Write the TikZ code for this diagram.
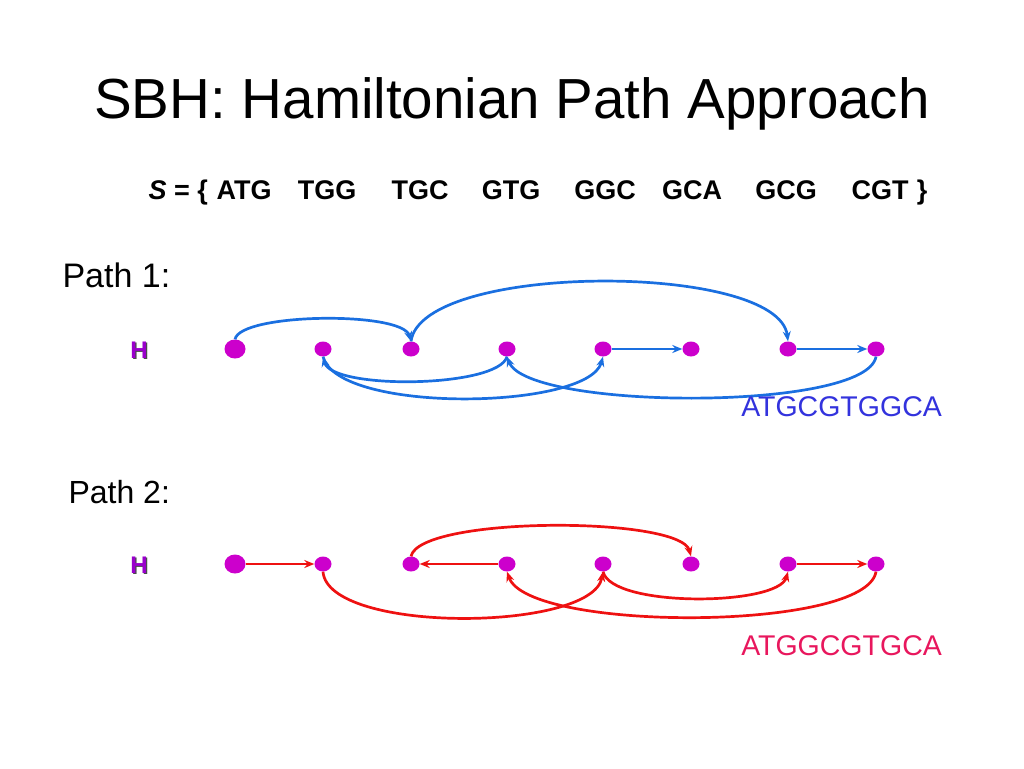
\documentclass[tikz,border=0pt]{standalone}
\usepackage{fontspec}
\setmainfont{Liberation Sans}
\usetikzlibrary{arrows.meta,shapes.geometric}
\definecolor{nodemag}{HTML}{CC00CC}
\definecolor{hpurple}{HTML}{9900CC}
\definecolor{arcblue}{HTML}{1A6FE0}
\definecolor{arcred}{HTML}{EE1111}
\definecolor{txtblue}{HTML}{3333DD}
\definecolor{txtred}{HTML}{E8175D}
\begin{document}
\begin{tikzpicture}[x=1pt,y=-1pt,
  dot/.style={ellipse,fill=nodemag,inner sep=0pt,minimum width=17pt,minimum height=15pt},
  bigdot/.style={dot,minimum width=21pt,minimum height=19pt},
  blink/.style={draw=arcblue,line width=2.7pt,-{Stealth[length=10pt,width=8pt]}},
  rlink/.style={draw=arcred,line width=2.7pt,-{Stealth[length=10pt,width=8pt]}},
  seqword/.style={anchor=base,font=\fontsize{27}{30}\selectfont\bfseries},
  plabel/.style={anchor=base west,font=\fontsize{34}{40}\selectfont},
  hlabel/.style={anchor=base,font=\fontsize{24}{26}\selectfont\bfseries},
  result/.style={anchor=base east,inner sep=0pt,font=\fontsize{28.5}{32}\selectfont}]
\useasboundingbox (0,0) rectangle (1024,768);
% title
\node[anchor=base,font=\fontsize{56.5}{64}\selectfont] (title) at (512,118) {SBH: Hamiltonian Path Approach};
% set S
\node[seqword,anchor=base west] (sset) at (145,199) {\textit{S} = \{};
\node[seqword] (w1) at (244,199) {ATG};
\node[seqword] (w2) at (327,199) {TGG};
\node[seqword] (w3) at (420,199) {TGC};
\node[seqword] (w4) at (511,199) {GTG};
\node[seqword] (w5) at (605,199) {GGC};
\node[seqword] (w6) at (692,199) {GCA};
\node[seqword] (w7) at (786,199) {GCG};
\node[seqword] (w8) at (880,199) {CGT};
\node[seqword] (wend) at (922,199) {\}};
% Path 1
\node[plabel] (pl1) at (59,287) {Path 1:};
\node[hlabel,text=black!70] (h1s) at (140.2,359.2) {H};
\node[hlabel,text=hpurple] (h1) at (139,358) {H};
\node[bigdot] (a1) at (235,349) {};
\node[dot] (a2) at (323,349) {};
\node[dot] (a3) at (411,349) {};
\node[dot] (a4) at (507,349) {};
\node[dot] (a5) at (603,349) {};
\node[dot] (a6) at (691,349) {};
\node[dot] (a7) at (788,349) {};
\node[dot] (a8) at (876,349) {};
\draw[blink] (a1.north) .. controls (240,313) and (402,311) .. (a3.north);
\draw[blink] (a3.north) .. controls (422,262) and (778,262) .. (a7.north);
\draw[blink] (a7) -- (a8);
\draw[blink] (a8.south) .. controls (866,412) and (528,410) .. (a4.south);
\draw[blink] (a4.south) .. controls (498,388) and (332,390) .. (a2.south);
\draw[blink] (a2.south) .. controls (338,414) and (588,410) .. (a5.south);
\draw[blink] (a5) -- (a6);
\node[result,text=txtblue] (r1) at (942,416) {ATGCGTGGCA};
% Path 2
\node[plabel,font=\fontsize{32}{38}\selectfont] (pl2) at (65,503) {Path 2:};
\node[hlabel,text=black!70] (h2s) at (140.2,574.2) {H};
\node[hlabel,text=hpurple] (h2) at (139,573) {H};
\node[bigdot] (b1) at (235,564) {};
\node[dot] (b2) at (323,564) {};
\node[dot] (b3) at (411,564) {};
\node[dot] (b4) at (507,564) {};
\node[dot] (b5) at (603,564) {};
\node[dot] (b6) at (691,564) {};
\node[dot] (b7) at (788,564) {};
\node[dot] (b8) at (876,564) {};
\draw[rlink] (b1) -- (b2);
\draw[rlink] (b2.south) .. controls (328,634) and (592,632) .. (b5.south);
\draw[rlink] (b5.south) .. controls (612,608) and (778,606) .. (b7.south);
\draw[rlink] (b7) -- (b8);
\draw[rlink] (b8.south) .. controls (866,632) and (528,632) .. (b4.south);
\draw[rlink] (b4) -- (b3);
\draw[rlink] (b3.north) .. controls (420,516) and (680,516) .. (b6.north);
\node[result,text=txtred] (r2) at (942,655) {ATGGCGTGCA};
\end{tikzpicture}
\end{document}
